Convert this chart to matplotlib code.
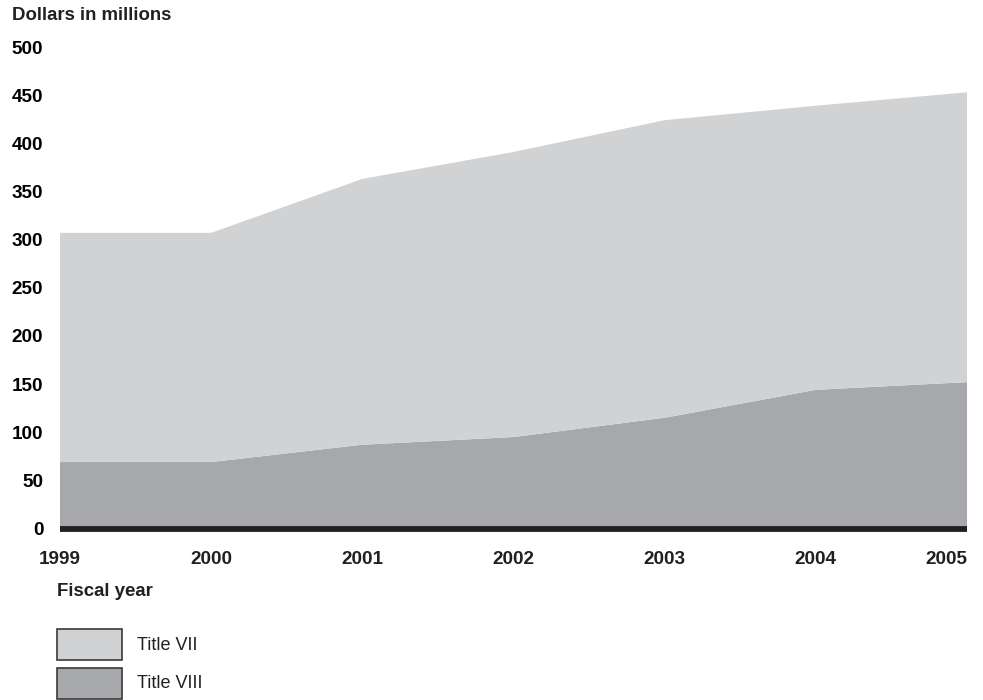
import numpy as np
import matplotlib
matplotlib.use("Agg")
import matplotlib.pyplot as plt
from matplotlib.patches import Rectangle

plt.rcParams['font.family'] = ['Liberation Sans', 'DejaVu Sans']

years = [1999, 2000, 2001, 2002, 2003, 2004, 2005]
title_viii = [69, 69, 87, 95, 115, 144, 152]
title_vii = [238, 238, 276, 296, 309, 295, 301]
series_names = ['Title VII', 'Title VIII']
y_ticks = [0, 50, 100, 150, 200, 250, 300, 350, 400, 450, 500]

light_gray = '#d1d2d4'
dark_gray = '#a7a8ab'
ink = '#231f20'


def main():
    fig = plt.figure(figsize=(9.83, 7.0), dpi=100)
    ax = fig.add_axes([60 / 983, 171.5 / 700, 907 / 983, 481.5 / 700])

    ax.stackplot(years, title_viii, title_vii,
                 colors=[dark_gray, light_gray], linewidth=0)
    ax.axhline(0, color=ink, lw=4.2, clip_on=False, zorder=5,
               solid_capstyle='butt')

    ax.set_xlim(years[0], years[-1])
    ax.set_ylim(0, 500)
    for s in ax.spines.values():
        s.set_visible(False)

    ax.set_yticks(y_ticks)
    ax.set_yticklabels([str(v) for v in y_ticks], fontsize=13.6,
                       fontweight='bold', color='black')
    ax.set_xticks(years)
    ax.set_xticklabels([str(y) for y in years], fontsize=13.6,
                       fontweight='bold', color=ink)
    ax.tick_params(axis='y', length=0, pad=12)
    ax.tick_params(axis='x', length=0, pad=16.5)
    ax.get_xticklabels()[-1].set_ha('right')

    fig.text(12 / 983, 1 - 15 / 700, 'Dollars in millions', fontsize=13.4,
             fontweight='bold', color=ink, va='center', ha='left')
    fig.text(57 / 983, 1 - 592 / 700, 'Fiscal year', fontsize=13.4,
             fontweight='bold', color=ink, va='center', ha='left')

    # legend swatches
    for i, (name, col) in enumerate(zip(series_names, [light_gray, dark_gray])):
        top = 629 + i * 39
        fig.add_artist(Rectangle((57 / 983, 1 - (top + 31) / 700),
                                 65 / 983, 31 / 700, transform=fig.transFigure,
                                 facecolor=col, edgecolor='#3a3a3a', lw=1.2))
        fig.text(137 / 983, 1 - (top + 16) / 700, name, fontsize=13,
                 color=ink, va='center', ha='left')

    fig.savefig('out.png', dpi=100)


if __name__ == "__main__":
    main()
